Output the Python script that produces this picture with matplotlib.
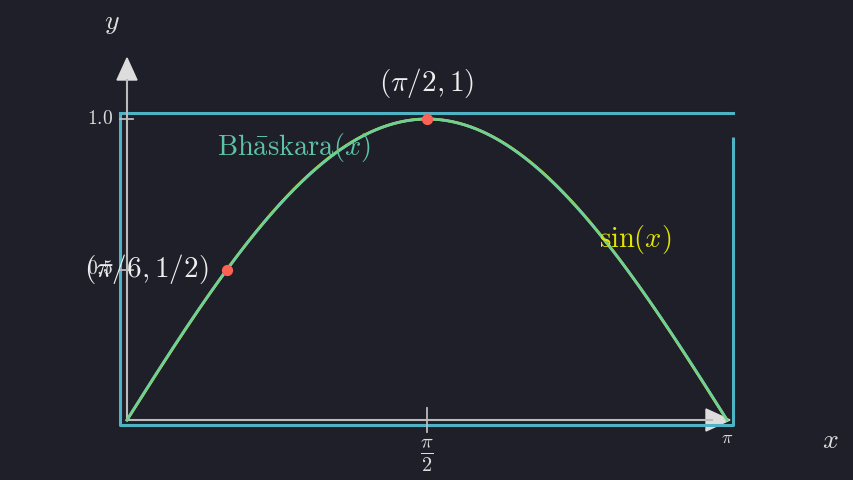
import numpy as np
import matplotlib.pyplot as plt
from matplotlib.patches import Polygon

plt.rcParams['mathtext.fontset'] = 'cm'
plt.rcParams['font.family'] = ['DejaVu Serif']

# the two functions on [0, pi]
x = np.linspace(0, np.pi, 400)
sin_y = np.sin(x)
bhaskara_y = 16 * x * (np.pi - x) / (5 * np.pi ** 2 - 4 * x * (np.pi - x))

# marked points
pts_x = [np.pi / 6, np.pi / 2]
pts_y = [0.5, 1.0]
pts_labels = [r'$(\pi/6, 1/2)$', r'$(\pi/2, 1)$']

ytick_vals = [1.0, 0.5]
ytick_labels = [r'$1.0$', r'$0.5$']
xtick_vals = [np.pi / 2, np.pi]
xtick_labels = [r'$\frac{\pi}{2}$', r'$\pi$']

bg = '#1e1f29'
fig = plt.figure(figsize=(8.54, 4.8), dpi=100, facecolor=bg)
# axes box maps x in [0, pi] -> px 127..727, y in [0, 1] -> px 420..119
ax = fig.add_axes([127 / 854, 60 / 480, 600 / 854, 301 / 480])
ax.set_xlim(0, np.pi)
ax.set_ylim(0, 1)
ax.axis('off')
ax.set_facecolor(bg)

px = np.pi / 600   # data units per pixel in x
py = 1 / 301       # data units per pixel in y

# cyan frame (open at top right corner)
frame = '#4fb3c6'
ax.plot([-7 * px, -7 * px, 606 * px, 606 * px], [307 * py, -5 * py, -5 * py, 283 * py],
        color=frame, lw=2.2, clip_on=False, solid_capstyle='butt')
ax.plot([-7 * px, 606 * px], [307 * py, 307 * py], color=frame, lw=2.2, clip_on=False)

# axes lines
axc = '#bbbbbb'
ax.plot([0, 0], [0, 340 * py], color=axc, lw=1.5, clip_on=False)
ax.plot([0, 585 * px], [0, 0], color=axc, lw=1.5, clip_on=False)
ax.add_patch(Polygon([[0, 362 * py], [-10 * px, 340 * py], [10 * px, 340 * py]],
                     closed=True, color='#dddddd', clip_on=False))
ax.add_patch(Polygon([[603 * px, 0], [579 * px, 11 * py], [579 * px, -11 * py]],
                     closed=True, color='#dddddd', clip_on=False))

# ticks
for v in ytick_vals:
    ax.plot([-7 * px, 6 * px], [v, v], color=axc, lw=1.3, clip_on=False)
for v, lab in zip(ytick_vals, ytick_labels):
    ax.text(-27 * px, v, lab, color='#dddddd', fontsize=14, ha='center', va='center')
ax.plot([np.pi / 2, np.pi / 2], [-12 * py, 12 * py], color=axc, lw=1.3, clip_on=False)
ax.text(np.pi / 2, -36 * py, xtick_labels[0], color='#dddddd', fontsize=21,
        ha='center', va='center')
ax.text(np.pi, -18 * py, xtick_labels[1], color='#dddddd', fontsize=13,
        ha='center', va='center')

# axis labels
ax.text(-15 * px, 398 * py, r'$y$', color='#dddddd', fontsize=20, ha='center', va='center')
ax.text(703 * px, -20 * py, r'$x$', color='#dddddd', fontsize=20, ha='center', va='center')

# curves
ax.plot(x, sin_y, color='#e8e800', lw=2, clip_on=False)
ax.plot(x, bhaskara_y, color='#6ccf9e', lw=2, clip_on=False)

ax.text(167 * px, 272 * py, r'$\mathrm{Bh\bar{a}skara}(x)$', color='#5cc3a5',
        fontsize=20.5, ha='center', va='center')
ax.text(508 * px, 180 * py, r'$\sin(x)$', color='#e3e300', fontsize=20.5,
        ha='center', va='center')

# points
ax.scatter(pts_x, pts_y, s=50, color='#fc6255', zorder=5, clip_on=False)
ax.text(pts_x[0] - 19 * px, pts_y[0], pts_labels[0], color='#eeeeee', fontsize=21,
        ha='right', va='center')
ax.text(pts_x[1], pts_y[1] + 36 * py, pts_labels[1], color='#eeeeee', fontsize=21,
        ha='center', va='center')

fig.savefig('out.png', dpi=100, facecolor=bg)
